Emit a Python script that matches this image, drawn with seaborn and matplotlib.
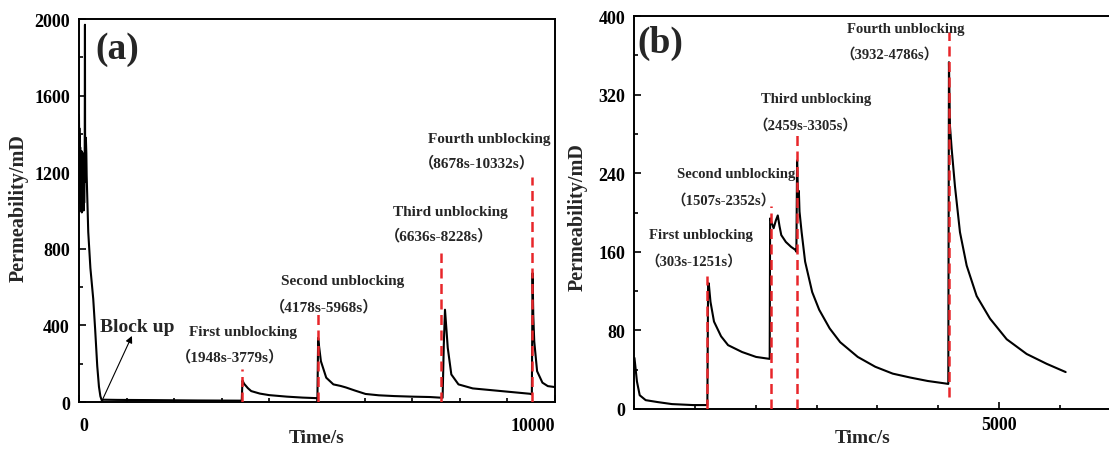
import matplotlib
matplotlib.use("Agg")
import matplotlib.pyplot as plt
from matplotlib.ticker import MultipleLocator, FixedLocator
import seaborn as sns
import pandas as pd

# ---------------- data: panel (a) ----------------
time_a = [0, 4, 8, 12, 15, 19, 22, 26, 30, 34, 38, 42, 45, 49, 52, 56, 60, 64, 68, 72,
          75, 79, 82, 86, 90, 94, 98, 102, 105, 109, 112, 116, 120,
          126, 130, 136, 145, 155, 162, 195, 240, 300, 340, 384, 420, 450, 477,
          520, 800, 1500, 2500, 3420,
          3435, 3470, 3550, 3619, 3800, 3994, 4369, 4700, 5010,
          5025, 5045, 5083, 5195, 5345, 5495, 5608, 5796, 6021, 6300, 6622, 7000, 7372, 7640,
          7665, 7690, 7720, 7748, 7823, 7973, 8273, 8874, 9474, 9515,
          9530, 9545, 9565, 9625, 9737, 9850, 10000]
perm_a = [1500, 1380, 1430, 1120, 1390, 1040, 1200, 1330, 1100, 1250, 1010, 1290, 1250, 1000, 1180, 1310, 990, 1240, 1280, 1020,
          1050, 1300, 1220, 1010, 1120, 1270, 1000, 1230, 1260, 1040, 1100, 1290, 1200,
          1970, 1150, 1230, 1380, 1300, 1180, 888, 700, 538, 380, 188, 80, 30, 10,
          12, 11, 10, 8, 7,
          112, 95, 72, 57, 44, 36, 28, 23, 20,
          335, 290, 213, 127, 92, 84, 76, 60, 42, 35, 31, 28, 26, 22,
          300, 482, 380, 283, 144, 92, 71, 57, 43, 40,
          673, 450, 317, 161, 101, 83, 78]
unblock_a = [3431, 5023, 7613, 9527]
unblock_top_a = [170, 474, 777, 1176]
titles_a = ["First unblocking", "Second unblocking", "Third unblocking", "Fourth unblocking"]
ranges_a = ["（1948s-3779s）", "（4178s-5968s）", "（6636s-8228s）", "（8678s-10332s）"]

# ---------------- data: panel (b) ----------------
time_b = [0, 10, 34, 72, 154, 322, 514, 803, 1000,
          1010, 1019, 1043, 1091, 1188, 1284, 1476, 1668, 1855,
          1861, 1880, 1909, 1940, 1966, 1990, 2014, 2077, 2149, 2207, 2221,
          2231, 2245, 2255, 2264, 2293, 2341, 2438, 2534, 2678, 2822, 3063, 3303,
          3543, 3784, 4024, 4264, 4305,
          4314, 4328, 4351, 4396, 4465, 4557, 4694, 4877, 5106, 5380, 5654, 5915]
perm_b = [52, 45, 28, 14, 9, 7, 5, 4, 4,
          126, 128, 109, 89, 74, 65, 58, 53, 51,
          194, 190, 184, 192, 197, 186, 177, 170, 165, 162, 160,
          253, 214, 222, 201, 180, 150, 119, 101, 82, 68, 53, 43,
          36, 32, 28.5, 26, 25.5,
          353, 288, 265, 227, 180, 146, 115, 92, 71, 56, 46, 37.6]
unblock_b = [995, 1875, 2231, 4318]
unblock_bottom_b = [0, 0, 0, 12]
unblock_top_b = [135, 207, 282, 384]
titles_b = ["First unblocking", "Second unblocking", "Third unblocking", "Fourth unblocking"]
ranges_b = ["（303s-1251s）", "（1507s-2352s）", "（2459s-3305s）", "（3932-4786s）"]

sns.set_theme(style="ticks")
plt.rcParams["font.family"] = ["Liberation Serif", "Noto Sans CJK SC"]
plt.rcParams["font.weight"] = "bold"
plt.rcParams["axes.labelweight"] = "bold"

fig = plt.figure(figsize=(11.09, 4.60), dpi=100)
ax_a = fig.add_axes([0.0712, 0.1239, 0.4292, 0.8326])
ax_b = fig.add_axes([0.5721, 0.1087, 0.4470, 0.8543])

RED = "#e8262a"
DASH = (0, (4, 2.2))


def style_axes(ax):
    for side in ("left", "bottom", "top", "right"):
        ax.spines[side].set_linewidth(1.4)
        ax.spines[side].set_color("black")
    ax.tick_params(which="both", direction="in", top=False, right=False,
                   width=1.2, colors="black")
    ax.tick_params(which="major", length=5)
    ax.tick_params(which="minor", length=3)
    ax.tick_params(axis="y", which="major", pad=6.5, labelsize=13)
    for lab in ax.get_yticklabels() + ax.get_xticklabels():
        lab.set_fontweight("bold")


# ---------------- panel (a) ----------------
df_a = pd.DataFrame({"t": time_a, "k": perm_a})
sns.lineplot(data=df_a, x="t", y="k", ax=ax_a, color="black", lw=1.5,
             estimator=None, sort=False)
ax_a.vlines(unblock_a, 0, unblock_top_a, colors=RED, lw=1.8, linestyles=DASH, zorder=3)
ax_a.set_xlim(0, 10000)
ax_a.set_ylim(0, 2000)
ax_a.yaxis.set_major_locator(MultipleLocator(400))
ax_a.yaxis.set_minor_locator(MultipleLocator(200))
ax_a.xaxis.set_major_locator(FixedLocator([0, 10000]))
ax_a.xaxis.set_minor_locator(MultipleLocator(1000))
ax_a.set_xticklabels(["0", "10000"])
style_axes(ax_a)
ax_a.tick_params(axis="x", which="major", pad=11, labelsize=13)
xl = ax_a.get_xticklabels()
xl[0].set_horizontalalignment("left")
xl[1].set_horizontalalignment("right")
ax_a.set_xlabel("Time/s", fontsize=14, fontweight="bold")
ax_a.set_ylabel("Permeability/mD", fontsize=14.5, fontweight="bold")
ax_a.xaxis.set_label_coords(0.5, -0.07)
ax_a.yaxis.set_label_coords(-0.105, 0.51)

ax_a.text(803, 1844, "(a)", fontsize=27, fontweight="bold", ha="center", va="center")
ax_a.text(1216, 395, "Block up", fontsize=14, fontweight="bold", ha="center", va="center")
ax_a.annotate("", xy=(1113, 345), xytext=(483, 6),
              arrowprops=dict(arrowstyle="-|>", color="black", lw=0.8,
                              mutation_scale=10, shrinkA=0, shrinkB=0))
title_pos_a = [(3446, 369), (5533, 633), (7800, 997), (8611, 1375)]
range_pos_a = [(3168, 239), (5158, 500), (7575, 869), (8363, 1251)]
for txt, (x, y) in zip(titles_a, title_pos_a):
    ax_a.text(x, y, txt, fontsize=11, fontweight="bold", ha="center", va="center")
for txt, (x, y) in zip(ranges_a, range_pos_a):
    ax_a.text(x, y, txt, fontsize=11, fontweight="bold", ha="center", va="center")

# ---------------- panel (b) ----------------
df_b = pd.DataFrame({"t": time_b, "k": perm_b})
sns.lineplot(data=df_b, x="t", y="k", ax=ax_b, color="black", lw=1.5,
             estimator=None, sort=False)
ax_b.vlines(unblock_b, unblock_bottom_b, unblock_top_b, colors=RED, lw=1.8,
            linestyles=DASH, zorder=3)
ax_b.set_xlim(0, 6800)
ax_b.set_ylim(0, 400)
ax_b.yaxis.set_major_locator(MultipleLocator(80))
ax_b.yaxis.set_minor_locator(MultipleLocator(40))
ax_b.xaxis.set_major_locator(FixedLocator([5000]))
ax_b.xaxis.set_minor_locator(MultipleLocator(5000 / 6))
ax_b.set_xticklabels(["5000"])
style_axes(ax_b)
ax_b.tick_params(axis="x", which="major", pad=5, labelsize=13)
ax_b.set_xlabel("Timc/s", fontsize=14, fontweight="bold")
ax_b.set_ylabel("Permeability/mD", fontsize=14.5, fontweight="bold")
ax_b.xaxis.set_label_coords(0.461, -0.05)
ax_b.yaxis.set_label_coords(-0.094, 0.49)

ax_b.text(356, 373, "(b)", fontsize=27, fontweight="bold", ha="center", va="center")
title_pos_b = [(918, 177.6), (1399, 240), (2486, 316), (3721, 387)]
range_pos_b = [(813, 151.5), (1216, 213.6), (2341, 289.5), (3505, 362)]
for txt, (x, y) in zip(titles_b, title_pos_b):
    ax_b.text(x, y, txt, fontsize=10.5, fontweight="bold", ha="center", va="center")
for txt, (x, y) in zip(ranges_b, range_pos_b):
    ax_b.text(x, y, txt, fontsize=10.5, fontweight="bold", ha="center", va="center")

for ax in (ax_a, ax_b):
    ax.set_facecolor("white")
fig.patch.set_facecolor("white")
fig.savefig("out.png", dpi=100)
